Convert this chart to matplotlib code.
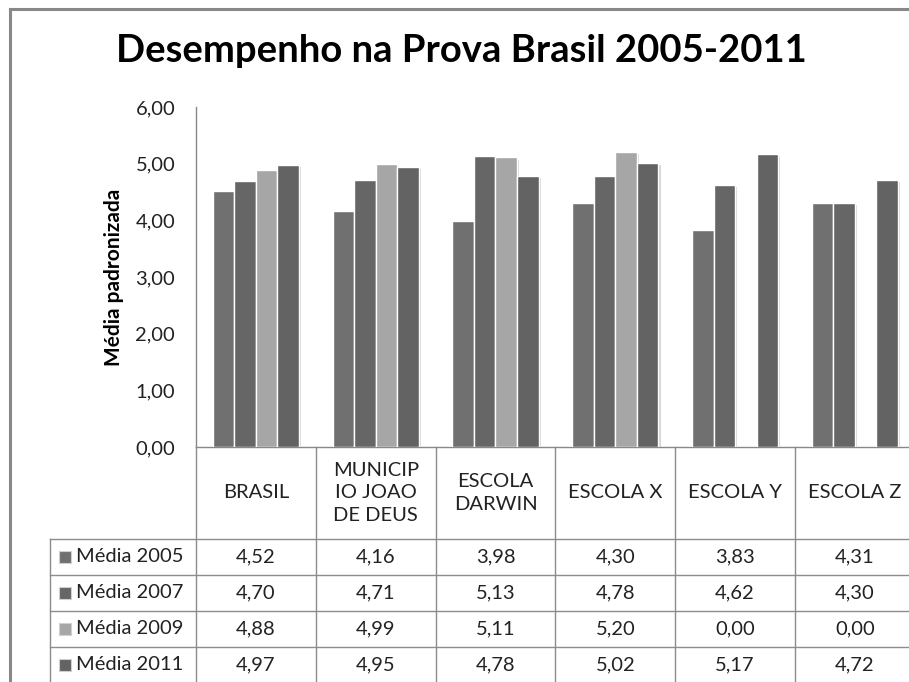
import matplotlib
matplotlib.use("Agg")
import matplotlib.pyplot as plt
import matplotlib.patheffects as pe
import numpy as np

plt.rcParams['font.family'] = ['Lato', 'DejaVu Sans']

categories = ["BRASIL", "MUNICIP\nIO JOAO\nDE DEUS", "ESCOLA\nDARWIN", "ESCOLA X", "ESCOLA Y", "ESCOLA Z"]
series_names = ["Média 2005", "Média 2007", "Média 2009", "Média 2011"]
media_2005 = [4.52, 4.16, 3.98, 4.30, 3.83, 4.31]
media_2007 = [4.70, 4.71, 5.13, 4.78, 4.62, 4.30]
media_2009 = [4.88, 4.99, 5.11, 5.20, 0.00, 0.00]
media_2011 = [4.97, 4.95, 4.78, 5.02, 5.17, 4.72]
series = [media_2005, media_2007, media_2009, media_2011]
colors = ["#707070", "#666666", "#a6a6a6", "#636363"]
yticks = [0, 1, 2, 3, 4, 5, 6]

W, H = 909, 682
fig = plt.figure(figsize=(W / 100, H / 100), dpi=100)
fig.patch.set_facecolor("white")

def fx(px):
    return px / W

def fy(py):
    return 1 - py / H

FS = 14.5
TXT = "#222222"

# outer chart border (cropped on right/bottom)
fig.add_artist(plt.Line2D([fx(10), fx(10)], [fy(9), fy(700)], color="#888888", lw=2.2))
fig.add_artist(plt.Line2D([fx(10), fx(920)], [fy(9), fy(9)], color="#888888", lw=2.2))

cat_w = 119.8
x0_px, y0_px, y6_px = 196, 447, 107
n = len(categories)
x_right = x0_px + n * cat_w

ax = fig.add_axes([fx(x0_px), fy(y0_px), fx(x_right) - fx(x0_px), (y0_px - y6_px) / H])
ax.set_xlim(-0.5, n - 0.5)
ax.set_ylim(0, 6)
ax.set_facecolor("none")

xpos = np.arange(n)
bw = 0.18
offsets = (np.arange(4) - 1.5) * bw
for i, vals in enumerate(series):
    bars = ax.bar(xpos + offsets[i], vals, width=bw, color=colors[i],
                  edgecolor="white", linewidth=1.0, zorder=3)
    for b in bars:
        b.set_path_effects([pe.SimplePatchShadow(offset=(1.5, -1.5), shadow_rgbFace="#b0b0b0", alpha=0.5),
                            pe.Normal()])

ax.set_yticks(yticks)
ax.set_yticklabels([f"{v:.2f}".replace(".", ",") for v in yticks], fontsize=FS, color=TXT)
ax.tick_params(axis="y", length=0, pad=15)
ax.set_xticks([])
for s in ["top", "right"]:
    ax.spines[s].set_visible(False)
ax.spines["left"].set_color("#888888")
ax.spines["bottom"].set_color("#888888")
ax.spines["left"].set_linewidth(1.0)
ax.spines["bottom"].set_linewidth(1.0)

ax.set_ylabel("Média padronizada", fontsize=15, fontweight="bold", labelpad=8)

fig.text(fx(461), fy(51), "Desempenho na Prova Brasil 2005-2011", ha="center", va="center",
         fontsize=27.5, fontweight="bold", color="black")

# data table
tab_left_px = 50
header_h, row_h = 92, 36
tab_h = header_h + 4 * row_h
axt = fig.add_axes([fx(tab_left_px), fy(y0_px + tab_h), fx(x_right) - fx(tab_left_px), tab_h / H])
xl = -0.5 - (x0_px - tab_left_px) / cat_w
axt.set_xlim(xl, n - 0.5)
axt.set_ylim(tab_h, 0)
axt.axis("off")
lc = "#8c8c8c"
for k in range(n + 1):
    axt.plot([k - 0.5, k - 0.5], [0, tab_h], color=lc, lw=1.0, clip_on=False)
axt.plot([xl, xl], [header_h, tab_h], color=lc, lw=1.0, clip_on=False)
for r in range(5):
    yy = header_h + r * row_h
    axt.plot([xl, n - 0.5], [yy, yy], color=lc, lw=1.0, clip_on=False)

for k, c in enumerate(categories):
    axt.text(k, header_h / 2, c, ha="center", va="center", fontsize=FS, color=TXT,
             linespacing=1.42)

for r, (name, vals) in enumerate(zip(series_names, series)):
    yc = header_h + r * row_h + row_h / 2
    axt.plot([xl + 15.5 / cat_w], [yc], marker="s", markersize=9, color=colors[r],
             markeredgecolor="#d0d0d0", markeredgewidth=0.8, clip_on=False)
    axt.text(xl + 26 / cat_w, yc, name, ha="left", va="center", fontsize=FS, color=TXT)
    for k, v in enumerate(vals):
        axt.text(k, yc, f"{v:.2f}".replace(".", ","), ha="center", va="center",
                 fontsize=FS, color=TXT)

fig.savefig("out.png", dpi=100, facecolor="white")
